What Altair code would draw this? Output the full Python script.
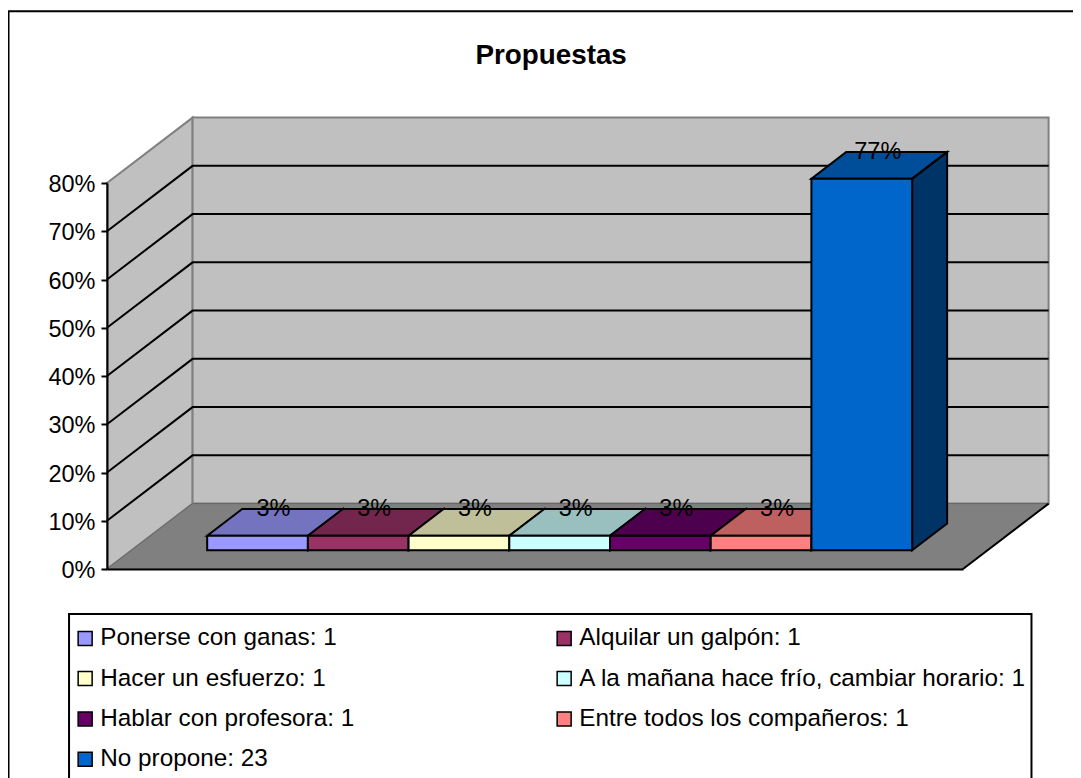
import altair as alt
import pandas as pd

FONT = "Liberation Sans"
names = ["Ponerse con ganas", "Alquilar un galpón", "Hacer un esfuerzo",
         "A la mañana hace frío, cambiar horario", "Hablar con profesora",
         "Entre todos los compañeros", "No propone"]
counts = [1, 1, 1, 1, 1, 1, 23]
percents = [3, 3, 3, 3, 3, 3, 77]
front_colors = ["#9999FF", "#993366", "#FFFFCC", "#CCFFFF", "#660066", "#FF8080", "#0066CC"]
top_colors = ["#7373BF", "#73264D", "#BFBF99", "#99BFBF", "#4D004D", "#BF6060", "#004D99"]
side_colors = ["#4D4D80", "#4D1A33", "#808066", "#668080", "#330033", "#804040", "#003366"]
pct_ticks = [0, 10, 20, 30, 40, 50, 60, 70, 80]

# Projection of the 3D box into the (slot, percent) plane
SLOTS = 8.5
DX, DY = 0.85, 13.55      # full floor depth
GAP = 0.75                # floor space before first bar
D_FRONT, D_BACK = 0.288, 0.697
YMAX = 80

labels = [f"{n}: {c}" for n, c in zip(names, counts)]
x_scale = alt.Scale(domain=[0, SLOTS], nice=False, zero=False)
y_scale = alt.Scale(domain=[0, YMAX], nice=False, zero=False)
X = lambda f: alt.X(f, type="quantitative", scale=x_scale, title=None,
                    axis=alt.Axis(labels=False, ticks=False, grid=False, domainColor="black",
                                  domainWidth=2, zindex=1, title=None))
Y = lambda f: alt.Y(f, type="quantitative", scale=y_scale, title=None,
                    axis=alt.Axis(values=pct_ticks, labelExpr="datum.value + '%'", grid=False,
                                  domainColor="black", domainWidth=2, tickColor="black",
                                  tickWidth=2, tickSize=6, labelPadding=6, labelOffset=1.5,
                                  labelFont=FONT, labelFontSize=23.5, labelColor="black",
                                  zindex=1, title=None))

# Chart frame, walls and floor
frame = pd.DataFrame({"x": [-0.978], "x2": [12], "y": [115.6], "y2": [-60]})
frame_l = alt.Chart(frame).mark_rect(fill="white", stroke="black", strokeWidth=2).encode(
    x=X("x"), x2="x2", y=Y("y"), y2="y2")

title_df = pd.DataFrame({"t": ["Propuestas"], "x": [4.41], "y": [106.4]})
title_l = alt.Chart(title_df).mark_text(font=FONT, fontSize=27.8, fontWeight="bold", color="black",
                                        align="center", baseline="middle").encode(
    x=X("x"), y=Y("y"), text="t:N")

left = pd.DataFrame({"x": [0, DX], "y": [0, DY], "y2": [YMAX, YMAX + DY]})
left_l = alt.Chart(left).mark_area(orient="vertical", fill="#C0C0C0", stroke="#808080", strokeWidth=2).encode(
    x=X("x"), y=Y("y"), y2="y2")
back = pd.DataFrame({"x": [DX, SLOTS + DX], "y": [DY, DY], "y2": [YMAX + DY, YMAX + DY]})
back_l = alt.Chart(back).mark_area(orient="vertical", fill="#C0C0C0", stroke="#808080", strokeWidth=2).encode(
    x=X("x"), y=Y("y"), y2="y2")
floor = pd.DataFrame({"y": [0, DY], "x": [0, DX], "x2": [SLOTS, SLOTS + DX]})
floor_l = alt.Chart(floor).mark_area(orient="horizontal", fill="#808080", stroke="#666666", strokeWidth=1).encode(
    x=X("x"), x2="x2", y=Y("y"))
floor_edge = pd.DataFrame({"x": [SLOTS, SLOTS + DX], "y": [0, DY]})
floor_edge_l = alt.Chart(floor_edge).mark_line(color="black", strokeWidth=2).encode(x=X("x"), y=Y("y"))

grid_rows = []
for p in pct_ticks[1:-1]:
    for o, (gx, gy) in enumerate([(0, p), (DX, p + DY), (SLOTS + DX, p + DY)]):
        grid_rows.append({"p": p, "o": o, "x": gx, "y": gy})
grid_l = alt.Chart(pd.DataFrame(grid_rows)).mark_line(color="black", strokeWidth=2).encode(
    x=X("x"), y=Y("y"), detail="p:N", order="o:Q")

# Bars
fx0 = D_FRONT * DX
fy0 = D_FRONT * DY
ddx = (D_BACK - D_FRONT) * DX
ddy = (D_BACK - D_FRONT) * DY
front_rows, top_rows, side_rows, text_rows = [], [], [], []
for i, (lab, v) in enumerate(zip(labels, percents)):
    xl = GAP + i + fx0
    xr = xl + 1
    yb = fy0
    yt = fy0 + v
    front_rows.append({"label": lab, "x": xl, "x2": xr, "y": yb, "y2": yt})
    top_rows.append({"i": i, "c": top_colors[i], "y": yt, "x": xl, "x2": xr})
    top_rows.append({"i": i, "c": top_colors[i], "y": yt + ddy, "x": xl + ddx, "x2": xr + ddx})
    side_rows.append({"i": i, "c": side_colors[i], "x": xr, "y": yb, "y2": yt})
    side_rows.append({"i": i, "c": side_colors[i], "x": xr + ddx, "y": yb + ddy, "y2": yt + ddy})
    text_rows.append({"t": f"{v}%", "x": xl + 0.5 + ddx / 2 - 0.015, "y": yt + ddy})

side_l = alt.Chart(pd.DataFrame(side_rows)).mark_area(orient="vertical", stroke="black", strokeWidth=2).encode(
    x=X("x"), y=Y("y"), y2="y2", detail="i:N", fill=alt.Fill("c:N", scale=None, legend=None))
top_l = alt.Chart(pd.DataFrame(top_rows)).mark_area(orient="horizontal", stroke="black", strokeWidth=2).encode(
    x=X("x"), x2="x2", y=Y("y"), detail="i:N", fill=alt.Fill("c:N", scale=None, legend=None))

legend = alt.Legend(orient="none", legendX=-34, legendY=443, direction="horizontal", columns=2,
                    title=None, symbolType="square", symbolSize=196, symbolStrokeColor="black",
                    symbolStrokeWidth=1.5, labelFont=FONT, labelFontSize=24.3, labelColor="black",
                    labelLimit=700, labelOffset=3, columnPadding=197, rowPadding=15.4, padding=0)
front_l = alt.Chart(pd.DataFrame(front_rows)).mark_rect(stroke="black", strokeWidth=2).encode(
    x=X("x"), x2="x2", y=Y("y"), y2="y2",
    fill=alt.Fill("label:N", scale=alt.Scale(domain=labels, range=front_colors), legend=legend))

text_l = alt.Chart(pd.DataFrame(text_rows)).mark_text(
    font=FONT, fontSize=23.5, color="black", align="center", baseline="middle").encode(
    x=X("x"), y=Y("y"), text="t:N")

legend_box = pd.DataFrame({"x": [-0.377], "x2": [9.18], "y": [-9.33], "y2": [-50]})
legend_box_l = alt.Chart(legend_box).mark_rect(fill="white", stroke="black", strokeWidth=2).encode(
    x=X("x"), x2="x2", y=Y("y"), y2="y2")

chart = alt.layer(
    frame_l, title_l, left_l, back_l, floor_l, floor_edge_l, grid_l, side_l, top_l,
    legend_box_l, front_l, text_l).resolve_scale(fill="independent").properties(
    width=856, height=386,
    padding={"left": 99, "top": 175, "right": 110, "bottom": 209},
    autosize="none",
).configure_view(stroke=None)

chart.save("out.html", embed_options={"renderer": "svg", "actions": False})
